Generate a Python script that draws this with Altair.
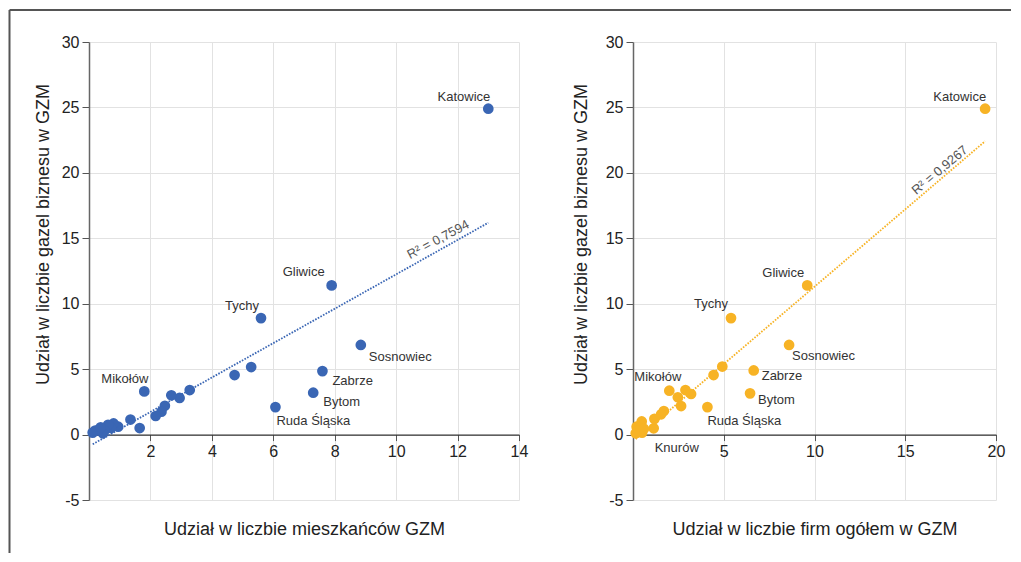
import altair as alt
import pandas as pd

# ---------------- data ----------------
left_names = ["Katowice", "Gliwice", "Tychy", "Sosnowiec", "Zabrze", "Bytom", "Ruda Śląska", "Mikołów",
              "", "", "", "", "", "", "", "", "", "", "", "", "", "", "", "", "", "", "", ""]
left_x = [13.0, 7.9, 5.6, 8.85, 7.6, 7.3, 6.07, 1.8,
          5.28, 4.74, 3.28, 2.95, 2.68, 2.47, 2.36, 2.17, 1.65, 1.35, 0.95, 0.8, 0.72, 0.62, 0.5, 0.45,
          0.3, 0.2, 0.12, 0.38]
left_y = [24.9, 11.4, 8.9, 6.85, 4.85, 3.2, 2.1, 3.3,
          5.16, 4.55, 3.4, 2.8, 3.0, 2.2, 1.75, 1.42, 0.5, 1.15, 0.6, 0.85, 0.5, 0.75, 0.3, 0.1,
          0.35, 0.3, 0.15, 0.55]

right_names = ["Katowice", "Gliwice", "Tychy", "Sosnowiec", "Zabrze", "Bytom", "Ruda Śląska", "Mikołów", "Knurów",
               "", "", "", "", "", "", "", "", "", "", "", "", "", "", ""]
right_x = [19.4, 9.6, 5.4, 8.6, 6.65, 6.45, 4.1, 2.0, 1.14,
           4.92, 4.44, 2.89, 3.2, 2.47, 2.65, 1.7, 1.55, 1.18, 0.48, 0.2, 0.3, 0.5, 0.15, 0.6]
right_y = [24.9, 11.4, 8.9, 6.85, 4.9, 3.15, 2.1, 3.35, 0.48,
           5.2, 4.55, 3.4, 3.1, 2.85, 2.18, 1.8, 1.55, 1.2, 1.0, 0.6, 0.3, 0.15, 0.1, 0.45]

left_ticks = [0, 2, 4, 6, 8, 10, 12, 14]
right_ticks = [0, 5, 10, 15, 20]
y_ticks = [-5, 0, 5, 10, 15, 20, 25, 30]

left_r2 = "R² = 0,7594"
right_r2 = "R² = 0,9267"
x_title_left = "Udział w liczbie mieszkańców GZM"
x_title_right = "Udział w liczbie firm ogółem w GZM"
y_title = "Udział w liczbie gazel biznesu w GZM"

# ---------------- styling ----------------
FONT = "Liberation Sans"
H = 458
BLUE = "#3a66b4"
YELLOW = "#f7b325"

left_label_style = {
    "Katowice": ("right", 2, -12),
    "Gliwice": ("right", -7, -13),
    "Tychy": ("right", -2, -12),
    "Sosnowiec": ("left", 8, 12),
    "Zabrze": ("left", 10, 10),
    "Bytom": ("left", 10, 9),
    "Ruda Śląska": ("left", 1, 14),
    "Mikołów": ("right", 4, -12),
}
right_label_style = {
    "Katowice": ("right", 1, -12),
    "Gliwice": ("right", -3, -12),
    "Tychy": ("right", -3, -14),
    "Sosnowiec": ("left", 3, 11),
    "Zabrze": ("left", 8, 6),
    "Bytom": ("left", 8, 7),
    "Ruda Śląska": ("left", 0, 14),
    "Mikołów": ("right", 12, -14),
    "Knurów": ("left", 1, 20),
}


def panel(xs, ys, names, color, xdom, xticks, width, r2text, r2x, r2y, r2angle,
          xtitle, ytitle_x, label_style, frame=False):
    df = pd.DataFrame({"x": xs, "y": ys, "name": names})
    base = alt.Chart(df)
    xscale = alt.Scale(domain=xdom, nice=False, zero=False)
    yscale = alt.Scale(domain=[-5, 30], nice=False)
    zero_off = -(H * 5 / 35)
    xaxis = alt.Axis(values=xticks, labelExpr="datum.value == 0 ? '' : '' + datum.value",
                     offset=zero_off, title=xtitle, titleX=width / 2, titleY=94.5,
                     titleBaseline="middle", titleAlign="center", tickSize=6, labelPadding=3,
                     labelFlush=False, domainColor="#333", domainWidth=1.2)
    yaxis = alt.Axis(values=y_ticks, labelExpr="'' + datum.value", title=y_title,
                     titleX=ytitle_x, titleY=192,
                     titleBaseline="middle", titleAlign="center", titleAngle=270,
                     tickSize=7, labelPadding=3, labelFlush=False,
                     domainColor="#666", domainWidth=1.5)
    pts = base.mark_circle(size=115, opacity=1, color=color).encode(
        x=alt.X("x:Q", scale=xscale, axis=xaxis),
        y=alt.Y("y:Q", scale=yscale, axis=yaxis),
    )
    reg = base.transform_regression("x", "y").mark_line(
        color=color, strokeDash=[1.6, 1.4], strokeWidth=1.8
    ).encode(x="x:Q", y="y:Q")
    layers = [reg, pts]
    for nm, (al, dx, dy) in label_style.items():
        layers.append(
            base.transform_filter(alt.datum.name == nm).mark_text(
                align=al, baseline="middle", dx=dx, dy=dy, font=FONT, fontSize=13, color="#333"
            ).encode(x="x:Q", y="y:Q", text="name:N")
        )
    r2df = pd.DataFrame({"x": [r2x], "y": [r2y], "t": [r2text]})
    layers.append(
        alt.Chart(r2df).mark_text(angle=r2angle, font=FONT, fontSize=13, color="#555",
                                  baseline="middle", align="center").encode(
            x="x:Q", y="y:Q", text="t:N")
    )
    if frame:
        one = alt.Chart(pd.DataFrame({"k": [0]}))
        layers.append(one.mark_rule(color="#555", strokeWidth=2).encode(
            x=alt.value(-79.5), x2=alt.value(922), y=alt.value(-32)))
        layers.append(one.mark_rule(color="#555", strokeWidth=2).encode(
            x=alt.value(-79.5), y=alt.value(-32), y2=alt.value(511)))
    return alt.layer(*layers).properties(width=width, height=H)


left = panel(left_x, left_y, left_names, BLUE, [0, 14], left_ticks, 430,
             left_r2, 11.37, 14.9, 332, x_title_left, -45.5, left_label_style, frame=True)
right = panel(right_x, right_y, right_names, YELLOW, [0, 20], right_ticks, 363,
              right_r2, 16.9, 20.2, 320, x_title_right, -52, right_label_style)

chart = alt.hconcat(left, right, spacing=114, bounds="flush").properties(
    padding={"left": 0, "top": 1, "right": 0, "bottom": 0}
).configure_view(strokeWidth=0).configure_axis(
    labelFont=FONT, titleFont=FONT, labelFontSize=16, titleFontSize=18,
    titleFontWeight="normal", labelColor="#222", titleColor="#222",
    tickColor="#555", gridColor="#e2e2e2", gridWidth=1
)

chart.save("out.html", embed_options={"renderer": "svg", "actions": False})
